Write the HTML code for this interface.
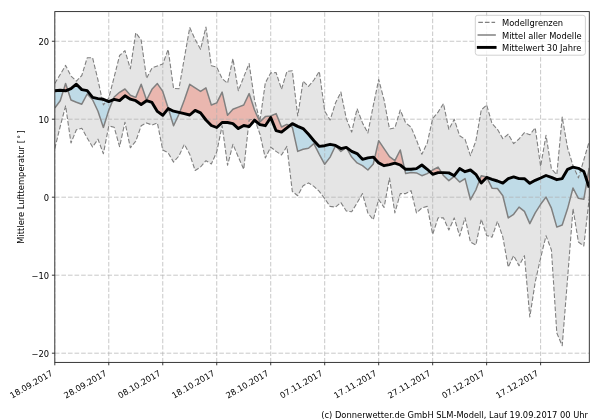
<!DOCTYPE html>
<html><head><meta charset="utf-8"><title>Mittlere Lufttemperatur</title>
<style>html,body{margin:0;padding:0;background:#fff;width:600px;height:420px;overflow:hidden}svg{display:block}</style>
</head><body>
<svg width="600" height="420" viewBox="0 0 600 420">
<rect width="600" height="420" fill="#fff"/>
<defs><clipPath id="ax"><rect x="54.8" y="11.6" width="534.5" height="350.8"/></clipPath></defs>
<g clip-path="url(#ax)">
<polygon points="54.8,83.5 60.2,74.5 65.6,65.4 70.99,76 76.39,81.2 81.79,75.5 87.19,57.8 92.59,57.8 97.98,80 103.38,105 108.78,98 114.18,77 119.58,55.5 124.97,50.7 130.37,68.8 135.77,32.8 141.17,40 146.57,78.3 151.96,68 157.36,66 162.76,64 168.16,49.4 173.56,88.3 178.95,88.8 184.35,58 189.75,27.6 195.15,39.5 200.55,49.3 205.94,27.1 211.34,65.7 216.74,67.1 222.14,78.6 227.54,83.3 232.93,58.6 238.33,90.7 243.73,77 249.13,63.6 254.53,100 259.92,121 265.32,82.9 270.72,72.9 276.12,72.6 281.52,89.3 286.91,71.4 292.31,70.7 297.71,116 303.11,81.1 308.51,86.4 313.9,80 319.3,71.4 324.7,111 330.1,120 335.5,103 340.89,92.1 346.29,118.6 351.69,132.1 357.09,108.6 362.49,122.9 367.88,132.9 373.28,105.7 378.68,79.5 384.08,100 389.48,129 394.87,127.9 400.27,110 405.67,122.9 411.07,127.1 416.47,140 421.86,154.3 427.26,142.9 432.66,118.6 438.06,112.1 443.46,103.6 448.85,129.3 454.25,119.3 459.65,135.7 465.05,139.3 470.45,155.7 475.84,141 481.24,110 486.64,105 492.04,123.6 497.44,129.3 502.83,138.6 508.23,134.3 513.63,143.6 519.03,139 524.43,132.6 529.82,134.8 535.22,127.8 540.62,166.4 546.02,135.3 551.42,169 556.81,174.6 562.21,117.1 567.61,148 573.01,165.7 578.41,177.9 583.8,160 589.2,141.4 589.2,198.6 583.8,246 578.41,242 573.01,208.6 567.61,278 562.21,345.7 556.81,333 551.42,250 546.02,235.7 540.62,258 535.22,282 529.82,317 524.43,255.7 519.03,265.7 513.63,255.7 508.23,267.1 502.83,237 497.44,221.4 492.04,237.1 486.64,235.5 481.24,219.3 475.84,245 470.45,242.1 465.05,217.9 459.65,236 454.25,217.9 448.85,230 443.46,217.9 438.06,217.9 432.66,234.3 427.26,206.4 421.86,207.9 416.47,212.9 411.07,190.7 405.67,193.6 400.27,193.6 394.87,212.9 389.48,178 384.08,207.5 378.68,199.6 373.28,219.7 367.88,213 362.49,193.6 357.09,202.9 351.69,211.8 346.29,211 340.89,202.6 335.5,207.1 330.1,206.4 324.7,198.6 319.3,191.4 313.9,186.4 308.51,182.9 303.11,185.7 297.71,195.7 292.31,191.4 286.91,146.4 281.52,155 276.12,151.4 270.72,147.1 265.32,158 259.92,134 254.53,119 249.13,120 243.73,169.3 238.33,157 232.93,144.3 227.54,165.3 222.14,125.7 216.74,152 211.34,164 205.94,160.7 200.55,167 195.15,170.5 189.75,154.3 184.35,144.3 178.95,156 173.56,162.1 168.16,152.9 162.76,150 157.36,122.9 151.96,125 146.57,122.9 141.17,125.8 135.77,141.2 130.37,147.8 124.97,122.2 119.58,146.7 114.18,127.2 108.78,126 103.38,153.7 97.98,139.2 92.59,147 87.19,138 81.79,128.3 76.39,129.7 70.99,143 65.6,105.8 60.2,126.5 54.8,148.5" fill="rgb(229,229,229)" stroke="none"/>
<polygon points="63.38,90.59 65.6,83.5 67.71,89.98 67.71,89.98 65.6,90.8 63.38,90.59" fill="rgb(240,120,100)" fill-opacity="0.42" stroke="none"/>
<polygon points="113.01,99.88 114.18,97 119.58,92.3 124.97,89 130.37,95.2 135.77,97.4 141.17,84.3 146.57,100 151.96,89.3 157.36,83.6 162.76,91.4 168.16,107.9 168.41,108.72 168.41,108.72 168.16,108.6 162.76,115.3 157.36,111.4 151.96,102.4 146.57,100.7 141.17,104.5 135.77,100.7 130.37,99.2 124.97,95.8 119.58,100.6 114.18,99.4 113.01,99.88" fill="rgb(240,120,100)" fill-opacity="0.42" stroke="none"/>
<polygon points="179.62,112.55 184.35,100 189.75,84.3 195.15,87.9 200.55,91.4 205.94,87.9 211.34,105 216.74,102.9 222.14,92.1 227.54,115.3 232.93,109.3 238.33,107.1 243.73,105 249.13,93.6 254.53,110 259.92,122 265.32,116.6 270.72,116 276.12,113.6 281.52,127 286.91,124.3 289.65,125.72 289.65,125.72 286.91,127.9 281.52,132.1 276.12,130.7 270.72,117.5 265.32,125.7 259.92,124.6 254.53,120.2 249.13,126.6 243.73,125.5 238.33,128.6 232.93,123.6 227.54,122.5 222.14,122.5 216.74,127.5 211.34,125.5 205.94,120 200.55,112.9 195.15,110.4 189.75,115 184.35,113.6 179.62,112.55" fill="rgb(240,120,100)" fill-opacity="0.42" stroke="none"/>
<polygon points="374.56,158.48 378.68,140.7 384.08,148.6 389.48,156.7 394.87,160.7 400.27,150 404.47,168.34 404.47,168.34 400.27,165 394.87,163.1 389.48,164.6 384.08,165.7 378.68,162.9 374.56,158.48" fill="rgb(240,120,100)" fill-opacity="0.42" stroke="none"/>
<polygon points="429.96,171.8 432.66,170 438.06,167.1 441.59,172.6 441.59,172.6 438.06,172.6 432.66,174.3 429.96,171.8" fill="rgb(240,120,100)" fill-opacity="0.42" stroke="none"/>
<polygon points="479.54,180.2 481.24,175.7 486.64,177.1 486.82,177.46 486.82,177.46 486.64,177.4 481.24,182.9 479.54,180.2" fill="rgb(240,120,100)" fill-opacity="0.42" stroke="none"/>
<polygon points="586.98,180.88 589.2,168 589.2,187.5 586.98,180.88" fill="rgb(240,120,100)" fill-opacity="0.42" stroke="none"/>
<polygon points="54.8,108 60.2,100.75 63.38,90.59 63.38,90.59 60.2,90.3 54.8,90.7" fill="rgb(135,206,235)" fill-opacity="0.4" stroke="none"/>
<polygon points="67.71,89.98 70.99,100 76.39,102.2 81.79,104.2 87.19,94 92.59,99.7 97.98,111.3 103.38,127.4 108.78,110.3 113.01,99.88 113.01,99.88 108.78,101.6 103.38,99.3 97.98,98.6 92.59,97.4 87.19,90.7 81.79,89.6 76.39,84.2 70.99,88.7 67.71,89.98" fill="rgb(135,206,235)" fill-opacity="0.4" stroke="none"/>
<polygon points="168.41,108.72 173.56,125.7 178.95,114.3 179.62,112.55 179.62,112.55 178.95,112.4 173.56,111.2 168.41,108.72" fill="rgb(135,206,235)" fill-opacity="0.4" stroke="none"/>
<polygon points="289.65,125.72 292.31,127.1 297.71,151.4 303.11,149.3 308.51,148.3 313.9,143.6 319.3,154.3 324.7,164.3 330.1,157.1 335.5,145.7 340.89,151.4 346.29,147.5 351.69,157.1 357.09,162.9 362.49,165.7 367.88,170 373.28,164 374.56,158.48 374.56,158.48 373.28,157.1 367.88,157.9 362.49,159.3 357.09,153.6 351.69,151.4 346.29,147.4 340.89,148.6 335.5,145.4 330.1,144.3 324.7,145.7 319.3,146.4 313.9,140.7 308.51,134.3 303.11,128.6 297.71,126.4 292.31,123.6 289.65,125.72" fill="rgb(135,206,235)" fill-opacity="0.4" stroke="none"/>
<polygon points="404.47,168.34 405.67,173.6 411.07,172.6 416.47,172.9 421.86,175.7 427.26,173.6 429.96,171.8 429.96,171.8 427.26,169.3 421.86,165 416.47,168.6 411.07,169.3 405.67,169.3 404.47,168.34" fill="rgb(135,206,235)" fill-opacity="0.4" stroke="none"/>
<polygon points="441.59,172.6 443.46,175.5 448.85,180.7 454.25,176.4 459.65,182.1 465.05,178.6 470.45,199.7 475.84,190 479.54,180.2 479.54,180.2 475.84,174.3 470.45,170 465.05,171.7 459.65,168.6 454.25,175.7 448.85,172.9 443.46,172.6 441.59,172.6" fill="rgb(135,206,235)" fill-opacity="0.4" stroke="none"/>
<polygon points="486.82,177.46 492.04,188.2 497.44,188.5 502.83,195.7 508.23,217.9 513.63,214.3 519.03,207.1 524.43,211.4 529.82,223.6 535.22,212.9 540.62,204.3 546.02,197.1 551.42,208.2 556.81,227.1 562.21,225 567.61,208.6 573.01,188 578.41,198.3 583.8,199.3 586.98,180.88 586.98,180.88 583.8,171.4 578.41,168.3 573.01,167.1 567.61,169.3 562.21,178.6 556.81,179.7 551.42,177.4 546.02,175.5 540.62,178 535.22,180.3 529.82,183.3 524.43,178.7 519.03,178.6 513.63,176.9 508.23,178.6 502.83,183.1 497.44,181 492.04,179.3 486.82,177.46" fill="rgb(135,206,235)" fill-opacity="0.4" stroke="none"/>
<path d="M54.8 362.4V11.6 M108.78 362.4V11.6 M162.76 362.4V11.6 M216.74 362.4V11.6 M270.72 362.4V11.6 M324.7 362.4V11.6 M378.68 362.4V11.6 M432.66 362.4V11.6 M486.64 362.4V11.6 M540.62 362.4V11.6" stroke="#b0b0b0" stroke-opacity="0.7" stroke-width="1" stroke-dasharray="4.47 1.93" fill="none"/>
<path d="M54.8 41.25H589.3 M54.8 119.2H589.3 M54.8 197.2H589.3 M54.8 275.2H589.3 M54.8 353.2H589.3" stroke="#b0b0b0" stroke-opacity="0.7" stroke-width="1" stroke-dasharray="4.62 1.96" fill="none"/>
<polyline points="54.8,83.5 60.2,74.5 65.6,65.4 70.99,76 76.39,81.2 81.79,75.5 87.19,57.8 92.59,57.8 97.98,80 103.38,105 108.78,98 114.18,77 119.58,55.5 124.97,50.7 130.37,68.8 135.77,32.8 141.17,40 146.57,78.3 151.96,68 157.36,66 162.76,64 168.16,49.4 173.56,88.3 178.95,88.8 184.35,58 189.75,27.6 195.15,39.5 200.55,49.3 205.94,27.1 211.34,65.7 216.74,67.1 222.14,78.6 227.54,83.3 232.93,58.6 238.33,90.7 243.73,77 249.13,63.6 254.53,100 259.92,121 265.32,82.9 270.72,72.9 276.12,72.6 281.52,89.3 286.91,71.4 292.31,70.7 297.71,116 303.11,81.1 308.51,86.4 313.9,80 319.3,71.4 324.7,111 330.1,120 335.5,103 340.89,92.1 346.29,118.6 351.69,132.1 357.09,108.6 362.49,122.9 367.88,132.9 373.28,105.7 378.68,79.5 384.08,100 389.48,129 394.87,127.9 400.27,110 405.67,122.9 411.07,127.1 416.47,140 421.86,154.3 427.26,142.9 432.66,118.6 438.06,112.1 443.46,103.6 448.85,129.3 454.25,119.3 459.65,135.7 465.05,139.3 470.45,155.7 475.84,141 481.24,110 486.64,105 492.04,123.6 497.44,129.3 502.83,138.6 508.23,134.3 513.63,143.6 519.03,139 524.43,132.6 529.82,134.8 535.22,127.8 540.62,166.4 546.02,135.3 551.42,169 556.81,174.6 562.21,117.1 567.61,148 573.01,165.7 578.41,177.9 583.8,160 589.2,141.4" fill="none" stroke="#808080" stroke-width="1.1" stroke-dasharray="4.6 2.0" stroke-linejoin="round"/>
<polyline points="54.8,148.5 60.2,126.5 65.6,105.8 70.99,143 76.39,129.7 81.79,128.3 87.19,138 92.59,147 97.98,139.2 103.38,153.7 108.78,126 114.18,127.2 119.58,146.7 124.97,122.2 130.37,147.8 135.77,141.2 141.17,125.8 146.57,122.9 151.96,125 157.36,122.9 162.76,150 168.16,152.9 173.56,162.1 178.95,156 184.35,144.3 189.75,154.3 195.15,170.5 200.55,167 205.94,160.7 211.34,164 216.74,152 222.14,125.7 227.54,165.3 232.93,144.3 238.33,157 243.73,169.3 249.13,120 254.53,119 259.92,134 265.32,158 270.72,147.1 276.12,151.4 281.52,155 286.91,146.4 292.31,191.4 297.71,195.7 303.11,185.7 308.51,182.9 313.9,186.4 319.3,191.4 324.7,198.6 330.1,206.4 335.5,207.1 340.89,202.6 346.29,211 351.69,211.8 357.09,202.9 362.49,193.6 367.88,213 373.28,219.7 378.68,199.6 384.08,207.5 389.48,178 394.87,212.9 400.27,193.6 405.67,193.6 411.07,190.7 416.47,212.9 421.86,207.9 427.26,206.4 432.66,234.3 438.06,217.9 443.46,217.9 448.85,230 454.25,217.9 459.65,236 465.05,217.9 470.45,242.1 475.84,245 481.24,219.3 486.64,235.5 492.04,237.1 497.44,221.4 502.83,237 508.23,267.1 513.63,255.7 519.03,265.7 524.43,255.7 529.82,317 535.22,282 540.62,258 546.02,235.7 551.42,250 556.81,333 562.21,345.7 567.61,278 573.01,208.6 578.41,242 583.8,246 589.2,198.6" fill="none" stroke="#808080" stroke-width="1.1" stroke-dasharray="4.6 2.0" stroke-linejoin="round"/>
<polyline points="54.8,108 60.2,100.75 65.6,83.5 70.99,100 76.39,102.2 81.79,104.2 87.19,94 92.59,99.7 97.98,111.3 103.38,127.4 108.78,110.3 114.18,97 119.58,92.3 124.97,89 130.37,95.2 135.77,97.4 141.17,84.3 146.57,100 151.96,89.3 157.36,83.6 162.76,91.4 168.16,107.9 173.56,125.7 178.95,114.3 184.35,100 189.75,84.3 195.15,87.9 200.55,91.4 205.94,87.9 211.34,105 216.74,102.9 222.14,92.1 227.54,115.3 232.93,109.3 238.33,107.1 243.73,105 249.13,93.6 254.53,110 259.92,122 265.32,116.6 270.72,116 276.12,113.6 281.52,127 286.91,124.3 292.31,127.1 297.71,151.4 303.11,149.3 308.51,148.3 313.9,143.6 319.3,154.3 324.7,164.3 330.1,157.1 335.5,145.7 340.89,151.4 346.29,147.5 351.69,157.1 357.09,162.9 362.49,165.7 367.88,170 373.28,164 378.68,140.7 384.08,148.6 389.48,156.7 394.87,160.7 400.27,150 405.67,173.6 411.07,172.6 416.47,172.9 421.86,175.7 427.26,173.6 432.66,170 438.06,167.1 443.46,175.5 448.85,180.7 454.25,176.4 459.65,182.1 465.05,178.6 470.45,199.7 475.84,190 481.24,175.7 486.64,177.1 492.04,188.2 497.44,188.5 502.83,195.7 508.23,217.9 513.63,214.3 519.03,207.1 524.43,211.4 529.82,223.6 535.22,212.9 540.62,204.3 546.02,197.1 551.42,208.2 556.81,227.1 562.21,225 567.61,208.6 573.01,188 578.41,198.3 583.8,199.3 589.2,168" fill="none" stroke="#808080" stroke-width="1.5" stroke-linejoin="round"/>
<polyline points="54.8,90.7 60.2,90.3 65.6,90.8 70.99,88.7 76.39,84.2 81.79,89.6 87.19,90.7 92.59,97.4 97.98,98.6 103.38,99.3 108.78,101.6 114.18,99.4 119.58,100.6 124.97,95.8 130.37,99.2 135.77,100.7 141.17,104.5 146.57,100.7 151.96,102.4 157.36,111.4 162.76,115.3 168.16,108.6 173.56,111.2 178.95,112.4 184.35,113.6 189.75,115 195.15,110.4 200.55,112.9 205.94,120 211.34,125.5 216.74,127.5 222.14,122.5 227.54,122.5 232.93,123.6 238.33,128.6 243.73,125.5 249.13,126.6 254.53,120.2 259.92,124.6 265.32,125.7 270.72,117.5 276.12,130.7 281.52,132.1 286.91,127.9 292.31,123.6 297.71,126.4 303.11,128.6 308.51,134.3 313.9,140.7 319.3,146.4 324.7,145.7 330.1,144.3 335.5,145.4 340.89,148.6 346.29,147.4 351.69,151.4 357.09,153.6 362.49,159.3 367.88,157.9 373.28,157.1 378.68,162.9 384.08,165.7 389.48,164.6 394.87,163.1 400.27,165 405.67,169.3 411.07,169.3 416.47,168.6 421.86,165 427.26,169.3 432.66,174.3 438.06,172.6 443.46,172.6 448.85,172.9 454.25,175.7 459.65,168.6 465.05,171.7 470.45,170 475.84,174.3 481.24,182.9 486.64,177.4 492.04,179.3 497.44,181 502.83,183.1 508.23,178.6 513.63,176.9 519.03,178.6 524.43,178.7 529.82,183.3 535.22,180.3 540.62,178 546.02,175.5 551.42,177.4 556.81,179.7 562.21,178.6 567.61,169.3 573.01,167.1 578.41,168.3 583.8,171.4 589.2,187.5" fill="none" stroke="#000" stroke-width="2.9" stroke-linejoin="round"/>
</g>
<rect x="54.8" y="11.6" width="534.5" height="350.8" fill="none" stroke="#222" stroke-width="0.9"/>
<path d="M54.8 41.25h-2.9 M54.8 119.2h-2.9 M54.8 197.2h-2.9 M54.8 275.2h-2.9 M54.8 353.2h-2.9 M54.8 362.4v2.9 M108.78 362.4v2.9 M162.76 362.4v2.9 M216.74 362.4v2.9 M270.72 362.4v2.9 M324.7 362.4v2.9 M378.68 362.4v2.9 M432.66 362.4v2.9 M486.64 362.4v2.9 M540.62 362.4v2.9" stroke="#222" stroke-width="0.9" fill="none"/>
<text x="49" y="45.25" font-family="DejaVu Sans, sans-serif" font-size="8.33" text-anchor="end" fill="#000">20</text>
<text x="49" y="123.2" font-family="DejaVu Sans, sans-serif" font-size="8.33" text-anchor="end" fill="#000">10</text>
<text x="49" y="201.2" font-family="DejaVu Sans, sans-serif" font-size="8.33" text-anchor="end" fill="#000">0</text>
<text x="49" y="279.2" font-family="DejaVu Sans, sans-serif" font-size="8.33" text-anchor="end" fill="#000">−10</text>
<text x="49" y="357.2" font-family="DejaVu Sans, sans-serif" font-size="8.33" text-anchor="end" fill="#000">−20</text>
<text x="53.4" y="374.9" font-family="DejaVu Sans, sans-serif" font-size="8.33" text-anchor="end" fill="#000" transform="rotate(-30 53.4 374.9)">18.09.2017</text>
<text x="107.38" y="374.9" font-family="DejaVu Sans, sans-serif" font-size="8.33" text-anchor="end" fill="#000" transform="rotate(-30 107.38 374.9)">28.09.2017</text>
<text x="161.36" y="374.9" font-family="DejaVu Sans, sans-serif" font-size="8.33" text-anchor="end" fill="#000" transform="rotate(-30 161.36 374.9)">08.10.2017</text>
<text x="215.34" y="374.9" font-family="DejaVu Sans, sans-serif" font-size="8.33" text-anchor="end" fill="#000" transform="rotate(-30 215.34 374.9)">18.10.2017</text>
<text x="269.32" y="374.9" font-family="DejaVu Sans, sans-serif" font-size="8.33" text-anchor="end" fill="#000" transform="rotate(-30 269.32 374.9)">28.10.2017</text>
<text x="323.3" y="374.9" font-family="DejaVu Sans, sans-serif" font-size="8.33" text-anchor="end" fill="#000" transform="rotate(-30 323.3 374.9)">07.11.2017</text>
<text x="377.28" y="374.9" font-family="DejaVu Sans, sans-serif" font-size="8.33" text-anchor="end" fill="#000" transform="rotate(-30 377.28 374.9)">17.11.2017</text>
<text x="431.26" y="374.9" font-family="DejaVu Sans, sans-serif" font-size="8.33" text-anchor="end" fill="#000" transform="rotate(-30 431.26 374.9)">27.11.2017</text>
<text x="485.24" y="374.9" font-family="DejaVu Sans, sans-serif" font-size="8.33" text-anchor="end" fill="#000" transform="rotate(-30 485.24 374.9)">07.12.2017</text>
<text x="539.22" y="374.9" font-family="DejaVu Sans, sans-serif" font-size="8.33" text-anchor="end" fill="#000" transform="rotate(-30 539.22 374.9)">17.12.2017</text>
<text x="0" y="0" font-family="DejaVu Sans, sans-serif" font-size="8.33" text-anchor="middle" fill="#000" transform="translate(24.3 187) rotate(-90)">Mittlere Lufttemperatur [<tspan font-size="7.6" dx="0.9" dy="-3.6">∘</tspan><tspan dx="0.9" dy="3.6">]</tspan></text>
<rect x="475.3" y="15.3" width="110.1" height="39.9" rx="2.5" fill="#fff" fill-opacity="0.8" stroke="#ccc" stroke-width="0.9"/>
<path d="M478.3 22.4H495.1" stroke="#808080" stroke-width="1.1" stroke-dasharray="4.6 2.0"/>
<path d="M478.3 35H495.1" stroke="#808080" stroke-width="1.5" stroke-linecap="square"/>
<path d="M478.3 47.4H495.1" stroke="#000" stroke-width="2.9" stroke-linecap="square"/>
<text x="502.1" y="26" font-family="DejaVu Sans, sans-serif" font-size="8.33" fill="#000">Modellgrenzen</text>
<text x="502.1" y="38.6" font-family="DejaVu Sans, sans-serif" font-size="8.33" fill="#000">Mittel aller Modelle</text>
<text x="502.1" y="50.9" font-family="DejaVu Sans, sans-serif" font-size="8.33" fill="#000">Mittelwert 30 Jahre</text>
<text x="588" y="418.3" font-family="DejaVu Sans, sans-serif" font-size="8.33" text-anchor="end" fill="#000">(c) Donnerwetter.de GmbH SLM-Modell, Lauf 19.09.2017 00 Uhr</text>
</svg>
</body></html>
